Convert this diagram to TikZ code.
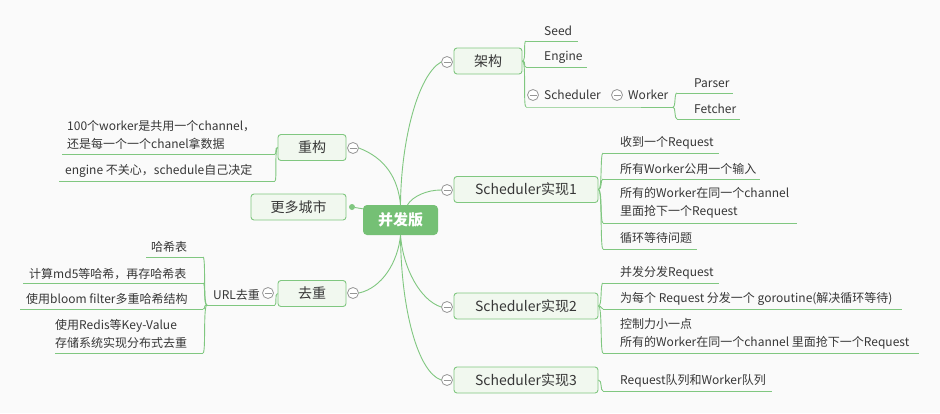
\documentclass[tikz,border=0pt]{standalone}
\usepackage{fontspec}
\setmainfont{Noto Sans CJK SC}
\usepackage{tikz}
\definecolor{bgpaper}{RGB}{250,250,250}
\definecolor{branchgreen}{RGB}{128,199,128}
\definecolor{boxline}{RGB}{128,199,128}
\definecolor{boxfill}{RGB}{241,248,239}
\definecolor{rootgreen}{RGB}{117,192,117}
\definecolor{foldgray}{RGB}{150,150,150}
\definecolor{textgray}{RGB}{55,55,55}

\begin{document}
\begin{tikzpicture}[x=1pt,y=-1pt,
    branch/.style={draw=branchgreen,line width=0.9pt},
    topic/.style={draw=boxline,fill=boxfill,line width=0.9pt,rounded corners=3pt,minimum height=26pt,text=textgray,font=\fontsize{14}{16}\selectfont},
    leaf/.style={anchor=west,align=left,text=textgray,font=\fontsize{12}{18}\selectfont},
    fold/.style={circle,draw=foldgray,fill=white,line width=0.8pt,minimum size=11pt,path picture={\draw[foldgray,line width=0.8pt] ([xshift=-3.5pt]path picture bounding box.center) -- ([xshift=3.5pt]path picture bounding box.center);}}]
            \tikzstyle{every node}+=[inner sep=0pt]
            \fill [bgpaper] (0,0) rectangle (940,413);
            \node [fill=rootgreen,rounded corners=4pt,minimum width=75pt,minimum height=30pt,text=white,font=\fontsize{15}{18}\selectfont\bfseries] (root) at (400.5,220) {并发版};
            \node [topic,minimum width=68pt] (jiagou) at (488,61) {架构};
            \node [topic,minimum width=68pt] (chonggou) at (312,147.5) {重构};
            \node [topic,minimum width=95pt] (chengshi) at (298.5,207) {更多城市};
            \node [topic,minimum width=68pt] (quchong) at (312,293.5) {去重};
            \node [topic,minimum width=144pt] (sched1) at (526,189.5) {Scheduler实现1};
            \node [topic,minimum width=144pt] (sched2) at (526,306) {Scheduler实现2};
            \node [topic,minimum width=144pt] (sched3) at (526,380) {Scheduler实现3};
            \node [fold] (fjiagou) at (447,62) {};
            \node [fold] (fchonggou) at (353,148) {};
            \node [fold] (fquchong) at (353,293) {};
            \node [fold] (fsched1) at (447,190) {};
            \node [fold] (fsched2) at (447,307) {};
            \node [fold] (fsched3) at (447,380) {};
            \node [fold] (fscheduler) at (533,95) {};
            \node [fold] (fworker) at (617,95) {};
            \node [fold] (furl) at (268,293) {};
            \node [circle,fill=branchgreen,minimum size=6pt] (dot) at (352,207) {};
            \draw [branch] (root.north) .. controls (401,140) and (418,75) .. (fjiagou.west);
            \draw [branch] (root.north) .. controls (398,178) and (385,158) .. (fchonggou.east);
            \draw [branch] ([xshift=7pt]root.north) .. controls (413,196) and (427,190) .. (fsched1.west);
            \draw [branch] (dot) -- ([yshift=-4pt]root.north west);
            \draw [branch] (root.south) .. controls (398,262) and (382,288) .. (fquchong.east);
            \draw [branch] (root.south) .. controls (403,268) and (420,300) .. (fsched2.west);
            \draw [branch] (root.south) .. controls (401,310) and (418,372) .. (fsched3.west);
            \coordinate (seedL) at (526,41);
            \coordinate (engineL) at (526,67);
            \coordinate (schedL) at (526,107);
            \coordinate (workerL) at (610,107);
            \coordinate (workerR) at (673,107);
            \coordinate (parserL) at (677,93);
            \coordinate (fetcherL) at (677,119);
            \node [leaf] (seed) at (544,31) {Seed};
            \node [leaf] (engine) at (544,57) {Engine};
            \node [leaf] (scheduler) at (544,95) {Scheduler};
            \node [leaf] (worker) at (628,95) {Worker};
            \node [leaf] (parser) at (694,83) {Parser};
            \node [leaf] (fetcher) at (694,109) {Fetcher};
            \draw [branch] (seedL) -- ++(52,0);
            \draw [branch] (engineL) -- ++(61,0);
            \draw [branch] (schedL) -- (workerL) -- (workerR);
            \draw [branch] (parserL) -- ++(56,0);
            \draw [branch] (fetcherL) -- ++(63,0);
            \draw [branch] (jiagou.east) .. controls +(4,0) and +(-3,0) .. (seedL);
            \draw [branch] (jiagou.east) .. controls +(4,0) and +(-3,0) .. (engineL);
            \draw [branch] (jiagou.east) .. controls +(4,0) and +(-3,0) .. (schedL);
            \draw [branch] (workerR) .. controls +(3,0) and +(-3,0) .. (parserL);
            \draw [branch] (workerR) .. controls +(3,0) and +(-3,0) .. (fetcherL);
            \coordinate (recvL) at (603,153);
            \coordinate (inputL) at (603,179);
            \coordinate (grabL) at (603,223);
            \coordinate (loopL) at (603,249);
            \node [leaf] (recv) at (620,143) {收到一个Request};
            \node [leaf] (input) at (620,169) {所有Worker公用一个输入};
            \node [leaf] (grab) at (620,203) {所有的Worker在同一个channel\\里面抢下一个Request};
            \node [leaf] (loop) at (620,238) {循环等待问题};
            \draw [branch] (recvL) -- ++(116,0);
            \draw [branch] (inputL) -- ++(157,0);
            \draw [branch] (grabL) -- ++(194,0);
            \draw [branch] (loopL) -- ++(94,0);
            \draw [branch] (sched1.east) .. controls +(4,0) and +(-3,0) .. (recvL);
            \draw [branch] (sched1.east) .. controls +(4,0) and +(-3,0) .. (inputL);
            \draw [branch] (sched1.east) .. controls +(4,0) and +(-3,0) .. (grabL);
            \draw [branch] (sched1.east) .. controls +(4,0) and +(-3,0) .. (loopL);
            \coordinate (dispatchL) at (603,283);
            \coordinate (goroutineL) at (603,309);
            \coordinate (controlL) at (603,353);
            \node [leaf] (dispatch) at (620,273) {并发分发Request};
            \node [leaf] (goroutine) at (620,299) {为每个 Request 分发一个 goroutine(解决循环等待)};
            \node [leaf] (control) at (620,334) {控制力小一点\\所有的Worker在同一个channel 里面抢下一个Request};
            \draw [branch] (dispatchL) -- ++(116,0);
            \draw [branch] (goroutineL) -- ++(299,0);
            \draw [branch] (controlL) -- ++(316,0);
            \draw [branch] (sched2.east) .. controls +(4,0) and +(-3,0) .. (dispatchL);
            \draw [branch] (sched2.east) .. controls +(4,0) and +(-3,0) .. (goroutineL);
            \draw [branch] (sched2.east) .. controls +(4,0) and +(-3,0) .. (controlL);
            \coordinate (queueL) at (603,391);
            \node [leaf] (queue) at (620,381) {Request队列和Worker队列};
            \draw [branch] (queueL) -- ++(169,0);
            \draw [branch] (sched3.east) .. controls +(4,0) and +(-3,0) .. (queueL);
            \coordinate (shareR) at (275,154);
            \coordinate (careR) at (275,181);
            \node [leaf] (share) at (67,135) {100个worker是共用一个channel，\\还是每一个一个chanel拿数据};
            \node [leaf] (care) at (65,171) {engine 不关心，schedule自己决定};
            \draw [branch] (shareR) -- ++(-213,0);
            \draw [branch] (careR) -- ++(-216,0);
            \draw [branch] (chonggou.west) .. controls +(-3,0) and +(2,0) .. (shareR);
            \draw [branch] (chonggou.west) .. controls +(-3,0) and +(2,0) .. (careR);
            \coordinate (urlL) at (207,305);
            \coordinate (urlR) at (275,305);
            \coordinate (hashR) at (203,257);
            \coordinate (md5R) at (203,283);
            \coordinate (bloomR) at (203,309);
            \coordinate (redisR) at (203,353);
            \node [leaf] (url) at (213,295) {URL去重};
            \node [leaf] (hash) at (151,247) {哈希表};
            \node [leaf] (md5) at (29,274) {计算md5等哈希，再存哈希表};
            \node [leaf] (bloom) at (26,299) {使用bloom filter多重哈希结构};
            \node [leaf] (redis) at (55,334) {使用Redis等Key-Value\\存储系统实现分布式去重};
            \draw [branch] (urlL) -- (urlR);
            \draw [branch] (hashR) -- ++(-57,0);
            \draw [branch] (md5R) -- ++(-180,0);
            \draw [branch] (bloomR) -- ++(-183,0);
            \draw [branch] (redisR) -- ++(-148,0);
            \draw [branch] (quchong.west) .. controls +(-3,0) and +(2,0) .. (urlR);
            \draw [branch] (urlL) .. controls +(-4,0) and +(3,0) .. (hashR);
            \draw [branch] (urlL) .. controls +(-4,0) and +(3,0) .. (md5R);
            \draw [branch] (urlL) .. controls +(-4,0) and +(3,0) .. (bloomR);
            \draw [branch] (urlL) .. controls +(-4,0) and +(3,0) .. (redisR);
\end{tikzpicture}
\end{document}
